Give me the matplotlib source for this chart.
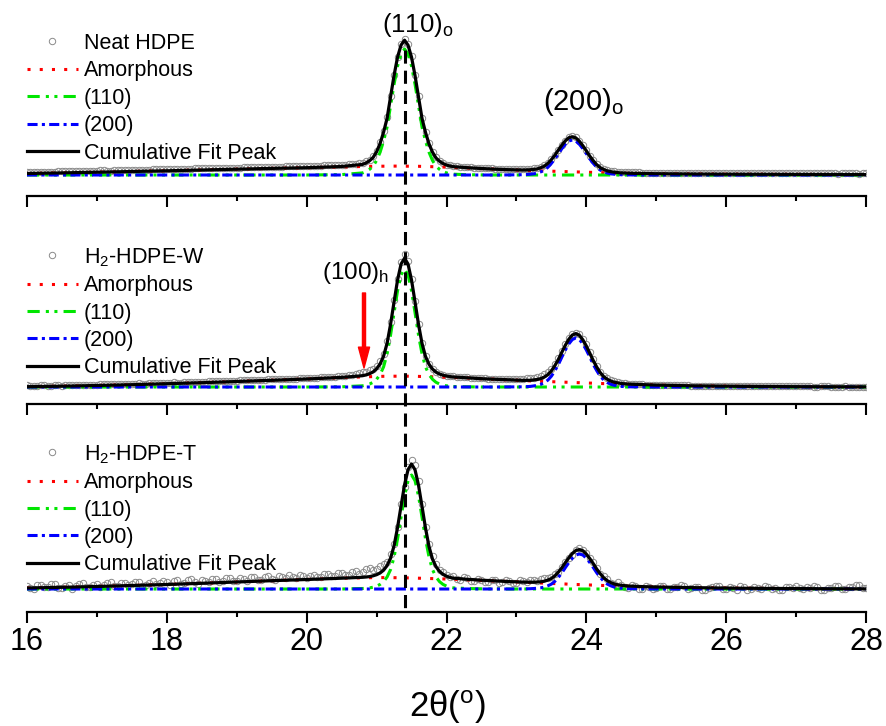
import numpy as np
import matplotlib
matplotlib.use("Agg")
import matplotlib.pyplot as plt
import matplotlib.transforms as mtransforms
from matplotlib.lines import Line2D
from matplotlib.ticker import MultipleLocator

plt.rcParams['font.family'] = ['Liberation Sans', 'DejaVu Sans']
plt.rcParams['mathtext.fontset'] = 'custom'
plt.rcParams['mathtext.rm'] = 'Liberation Sans'
plt.rcParams['mathtext.it'] = 'Liberation Sans:italic'
plt.rcParams['mathtext.bf'] = 'Liberation Sans:bold'

# ---------------- data (intensity in a.u. above each panel's baseline) ----------------
sample_names = ['Neat HDPE', 'H$_\\mathrm{2}$-HDPE-W', 'H$_\\mathrm{2}$-HDPE-T']
component_names = ['Amorphous', '(110)', '(200)', 'Cumulative Fit Peak']
x_ticks = [16, 18, 20, 22, 24, 26, 28]

# measured 2theta scan positions (step 0.05)
two_theta_obs = np.round(np.arange(16.0, 28.0001, 0.05), 2)

obs_neat = [
    3.0, 3.1, 3.2, 3.3, 3.1, 3.2, 3.5, 3.4, 3.4, 3.6, 3.7, 3.6, 3.8, 3.9, 3.9, 4.1, 4.3, 4.2, 4.2, 4.3,
    4.4, 4.6, 4.6, 4.5, 4.5, 4.8, 4.9, 4.9, 5.0, 5.1, 5.1, 5.3, 5.4, 5.3, 5.3, 5.5, 5.6, 5.8, 5.9, 5.8,
    5.8, 6.0, 6.1, 6.2, 6.3, 6.2, 6.2, 6.4, 6.6, 6.6, 6.7, 6.8, 6.8, 7.0, 7.1, 7.0, 7.0, 7.2, 7.3, 7.4,
    7.5, 7.5, 7.6, 7.8, 7.9, 7.8, 7.8, 8.0, 8.1, 8.2, 8.3, 8.3, 8.3, 8.5, 8.6, 8.7, 8.8, 8.7, 8.8, 9.0,
    9.1, 9.2, 9.3, 9.3, 9.4, 9.6, 9.7, 9.8, 9.9, 10.0, 10.2, 10.4, 10.6, 10.9, 11.3, 11.8, 12.5, 13.6, 15.5, 19.0,
    24.5, 33.0, 44.0, 58.0, 79.5, 100.5, 118.5, 131.0, 136.5, 131.0, 119.0, 100.0, 79.0, 57.5, 43.5, 32.0, 23.5, 17.8, 14.5, 12.2,
    10.5, 9.6, 9.0, 8.6, 8.3, 8.0, 7.8, 7.7, 7.5, 7.2, 7.0, 6.9, 6.8, 6.7, 6.5, 6.3, 6.2, 6.1, 6.0, 5.9,
    5.9, 5.9, 5.9, 6.0, 6.3, 6.7, 7.3, 8.2, 9.6, 12.5, 16.0, 20.5, 25.5, 30.5, 34.5, 37.8, 39.0, 37.8, 34.5, 30.0,
    25.0, 19.5, 15.0, 11.0, 8.0, 6.2, 5.0, 4.2, 3.6, 3.3, 3.0, 2.9, 2.8, 2.7, 2.6, 2.6, 2.5, 2.5, 2.4, 2.4,
    2.3, 2.4, 2.3, 2.2, 2.2, 2.3, 2.4, 2.3, 2.2, 2.1, 2.1, 2.2, 2.3, 2.2, 2.1, 2.0, 2.0, 2.1, 2.2, 2.1,
    2.0, 1.9, 1.9, 2.0, 2.1, 2.0, 1.9, 1.8, 1.8, 1.9, 2.0, 1.9, 1.8, 1.8, 1.9, 1.8, 1.7, 1.7, 1.8, 1.8,
    1.7, 1.8, 1.8, 1.7, 1.6, 1.6, 1.7, 1.7, 1.6, 1.7, 1.8, 1.7, 1.5, 1.6, 1.6, 1.7, 1.7, 1.6, 1.5, 1.6,
    1.6]
obs_w = [
    1.5, 1.2, 1.0, 1.4, 1.8, 1.5, 1.2, 1.4, 1.6, 1.5, 1.3, 1.7, 2.0, 1.9, 1.8, 2.1, 2.4, 2.2, 2.0, 2.1,
    2.3, 2.5, 2.6, 2.5, 2.5, 2.8, 3.0, 2.9, 2.8, 3.1, 3.3, 3.4, 3.5, 3.4, 3.3, 3.6, 3.9, 4.0, 4.0, 4.0,
    4.1, 4.3, 4.5, 4.4, 4.4, 4.7, 4.9, 5.0, 5.0, 5.1, 5.2, 5.4, 5.6, 5.5, 5.5, 5.8, 6.0, 6.1, 6.2, 6.2,
    6.3, 6.5, 6.7, 6.8, 6.8, 6.9, 7.0, 7.2, 7.4, 7.5, 7.5, 7.7, 7.8, 8.0, 8.1, 8.1, 8.2, 8.4, 8.6, 8.7,
    8.8, 9.0, 9.2, 9.4, 9.5, 9.7, 9.9, 10.1, 10.3, 10.5, 10.8, 11.3, 11.8, 12.4, 13.0, 13.7, 14.5, 15.4, 16.5, 18.0,
    21.0, 26.0, 33.0, 46.0, 64.5, 87.0, 108.5, 125.0, 133.0, 126.0, 108.5, 85.5, 62.5, 43.5, 30.5, 23.0, 18.2, 15.0, 13.2, 12.0,
    11.3, 10.9, 10.6, 10.3, 10.0, 9.8, 9.6, 9.3, 9.0, 8.8, 8.6, 8.5, 8.3, 8.1, 8.0, 7.9, 7.8, 7.7, 7.6, 7.6,
    7.7, 7.9, 8.2, 8.6, 9.0, 9.4, 10.0, 11.0, 12.5, 14.5, 17.5, 22.5, 28.5, 35.5, 42.5, 48.5, 52.5, 54.0, 53.0, 48.0,
    42.5, 35.0, 27.5, 21.0, 15.0, 11.0, 8.5, 6.8, 5.5, 4.7, 4.0, 3.6, 3.3, 3.0, 2.8, 2.7, 2.5, 2.4, 2.2, 2.1,
    2.0, 1.9, 1.8, 1.8, 1.7, 1.7, 1.6, 1.6, 1.5, 1.5, 1.4, 1.4, 1.3, 1.3, 1.3, 1.2, 1.2, 1.1, 1.1, 1.1,
    1.0, 1.0, 1.0, 0.9, 0.9, 0.9, 0.9, 0.8, 0.8, 0.8, 0.8, 0.7, 0.7, 0.7, 0.8, 0.7, 0.6, 0.6, 0.7, 0.6,
    0.5, 0.6, 0.6, 0.5, 0.5, 0.4, 0.4, 0.5, 0.6, 0.5, 0.4, 0.4, 0.3, 0.4, 0.5, 0.4, 0.3, 0.3, 0.4, 0.3,
    0.3]
obs_t = [
    3.5, 1.0, 0.5, 4.5, 4.0, 2.0, 2.0, 5.0, 5.0, 1.5, 1.5, 3.5, 4.5, 0.5, 3.0, 5.5, 6.0, 2.0, 2.5, 4.5,
    5.5, 2.5, 4.0, 6.5, 7.0, 3.0, 3.5, 6.0, 6.5, 4.0, 5.0, 7.5, 7.5, 3.5, 4.5, 6.5, 8.0, 5.0, 6.0, 8.5,
    7.0, 4.5, 8.5, 9.0, 5.5, 6.5, 9.0, 10.0, 7.0, 5.5, 9.5, 8.0, 7.5, 10.5, 10.0, 7.0, 8.5, 11.5, 11.0, 8.0,
    8.5, 11.0, 10.5, 8.0, 12.0, 12.5, 9.5, 9.0, 12.5, 13.0, 10.5, 9.5, 13.0, 12.0, 11.0, 14.0, 12.5, 11.0, 14.0, 13.5,
    11.5, 13.0, 14.5, 12.0, 12.5, 15.5, 15.0, 13.0, 13.5, 16.5, 16.0, 14.0, 14.5, 17.5, 18.0, 15.5, 17.0, 20.0, 21.0, 19.0,
    20.0, 23.5, 25.0, 27.0, 35.0, 45.0, 62.0, 85.0, 102.0, 122.0, 129.0, 124.0, 108.0, 85.0, 62.0, 45.0, 33.0, 25.0, 19.0, 17.5,
    14.0, 12.5, 13.0, 10.5, 9.5, 12.0, 11.0, 8.5, 8.0, 10.5, 9.5, 7.0, 7.0, 9.5, 9.0, 6.5, 7.5, 9.5, 8.5, 6.5,
    6.5, 9.0, 8.0, 7.0, 9.5, 9.0, 8.5, 10.5, 11.0, 11.5, 12.0, 15.0, 17.5, 22.0, 27.0, 31.0, 34.0, 39.0, 41.0, 39.5,
    36.0, 31.5, 27.5, 21.0, 15.0, 13.0, 10.5, 6.0, 5.0, 7.0, 4.5, 2.0, 1.5, 4.5, 3.5, 0.5, 0.5, 3.0, 2.5, 0.0,
    1.0, 3.5, 3.0, 0.0, 0.5, 2.5, 2.0, 4.0, 3.5, 0.5, 1.0, 2.0, 2.5, -0.5, -0.5, 1.5, 2.0, 3.5, 3.0, 0.5,
    0.5, 2.0, 1.5, -0.5, 3.0, 2.5, -1.0, 0.0, 2.0, 1.5, 0.5, 3.0, 2.5, 0.0, 1.0, -0.5, -0.5, 2.0, 2.5, 1.0,
    3.5, 1.5, 0.0, 2.0, 1.5, 3.0, 2.5, -0.5, -1.0, 1.5, 1.0, 3.5, 3.0, 0.0, 0.5, 2.5, 2.0, 4.5, 4.0, 1.5,
    1.0]

# 2theta positions at which the fitted curves are tabulated
two_theta_fit = np.array(
    [16.0, 16.5, 17.0, 17.5, 18.0, 18.5, 19.0, 19.5, 20.0, 20.5]
    + list(np.round(np.arange(20.80, 22.1001, 0.05), 2))
    + [22.3, 22.5, 22.7, 22.9]
    + list(np.round(np.arange(23.10, 24.6001, 0.05), 2))
    + [24.8, 25.0, 25.5, 26.0, 26.5, 27.0, 27.5, 28.0])

# --- Neat HDPE fit components ---
amor_neat = ([1.5, 2.1, 2.8, 3.5, 4.2, 5.0, 5.8, 6.6, 7.3, 8.1]
             + [8.5, 8.6, 8.6, 8.7, 8.7, 8.8, 8.8, 8.8, 8.9, 8.9, 8.9, 8.9, 8.8, 8.8,
                8.8, 8.7, 8.7, 8.6, 8.5, 8.4, 8.3, 8.2, 8.1, 8.0, 7.8, 7.7, 7.5]
             + [7.0, 6.4, 5.8, 5.2]
             + [4.7, 4.6, 4.5, 4.4, 4.2, 4.1, 4.0, 3.9, 3.8, 3.7, 3.6, 3.5, 3.4, 3.3,
                3.2, 3.1, 3.0, 2.9, 2.8, 2.7, 2.6, 2.5, 2.4, 2.3, 2.2, 2.1, 2.0, 1.9,
                1.8, 1.75, 1.7]
             + [1.5, 1.3, 1.0, 0.8, 0.7, 0.6, 0.5, 0.4])
p110_neat = ([0.0] * 9 + [0.4]
             + [2.1, 3.5, 5.7, 8.8, 14.5, 22.7, 34.0, 47.9, 69.3, 90.7, 109.0, 121.0,
                126.0, 121.0, 109.0, 90.7, 69.3, 47.9, 34.0, 22.7, 14.5, 8.8, 5.7, 3.5,
                2.1, 1.3, 0.8]
             + [0.3, 0.1, 0.0, 0.0]
             + [0.0] * 31
             + [0.0] * 8)
p200_neat = ([0.0] * 10
             + [0.0] * 27
             + [0.0, 0.0, 0.0, 0.1]
             + [0.3, 0.5, 0.8, 1.2, 1.9, 3.2, 4.9, 7.7, 11.6, 16.1, 21.4, 26.4, 30.8, 34.0,
                35.0, 34.0, 30.8, 26.4, 21.4, 16.1, 11.6, 7.7, 4.9, 3.2, 1.9, 1.2, 0.8, 0.5,
                0.3, 0.2, 0.1]
             + [0.0] * 8)

# --- H2-HDPE-W fit components ---
amor_w = ([0.3, 0.8, 1.5, 2.3, 3.3, 4.3, 5.5, 6.7, 8.0, 9.4]
          + [10.1, 10.2, 10.3, 10.4, 10.5, 10.6, 10.7, 10.7, 10.8, 10.8, 10.8, 10.8, 10.8,
             10.8, 10.7, 10.7, 10.6, 10.5, 10.4, 10.3, 10.2, 10.1, 10.0, 9.9, 9.8, 9.7, 9.5]
          + [9.0, 8.3, 7.7, 7.1]
          + [6.4, 6.3, 6.1, 6.0, 5.9, 5.7, 5.6, 5.5, 5.3, 5.2, 5.1, 4.9, 4.8, 4.7, 4.5,
             4.4, 4.3, 4.1, 4.0, 3.9, 3.8, 3.6, 3.5, 3.4, 3.3, 3.2, 3.1, 3.0, 2.9, 2.8, 2.7]
          + [2.3, 1.9, 1.2, 0.8, 0.5, 0.3, 0.2, 0.1])
p110_w = ([0.0] * 9 + [0.2]
          + [1.2, 1.9, 3.0, 4.7, 7.7, 12.4, 20.1, 33.0, 51.9, 74.3, 96.2, 112.1, 118.0,
             112.1, 96.2, 74.3, 51.9, 33.0, 20.1, 12.4, 7.7, 4.7, 3.0, 1.9, 1.2, 0.7, 0.5]
          + [0.2, 0.0, 0.0, 0.0]
          + [0.0] * 31
          + [0.0] * 8)
p200_w = ([0.0] * 10
          + [0.0] * 27
          + [0.0, 0.0, 0.0, 0.1]
          + [0.2, 0.4, 0.6, 1.1, 1.7, 2.7, 4.4, 6.9, 10.8, 16.2, 22.5, 29.9, 37.0, 43.1,
             47.5, 49.0, 47.5, 43.1, 37.0, 29.9, 22.5, 16.2, 10.8, 6.9, 4.4, 2.7, 1.7, 1.1,
             0.6, 0.4, 0.2]
          + [0.1, 0.0, 0.0, 0.0, 0.0, 0.0, 0.0, 0.0])

# --- H2-HDPE-T fit components ---
amor_t = ([1.0, 1.7, 2.5, 3.5, 4.5, 5.7, 7.0, 8.3, 9.5, 10.8]
          + [11.2, 11.3, 11.3, 11.4, 11.4, 11.4, 11.4, 11.4, 11.4, 11.3, 11.3, 11.2, 11.2,
             11.1, 11.0, 10.9, 10.8, 10.7, 10.6, 10.5, 10.4, 10.3, 10.2, 10.1, 9.9, 9.8, 9.7]
          + [9.2, 8.6, 8.0, 7.4]
          + [6.8, 6.6, 6.5, 6.3, 6.2, 6.0, 5.9, 5.7, 5.6, 5.4, 5.3, 5.1, 5.0, 4.8, 4.7,
             4.5, 4.4, 4.3, 4.1, 4.0, 3.9, 3.7, 3.6, 3.5, 3.4, 3.2, 3.1, 3.0, 2.9, 2.8, 2.7]
          + [2.3, 2.0, 1.4, 0.9, 0.6, 0.4, 0.2, 0.1])
p110_t = ([0.0] * 10
          + [0.5, 0.7, 1.1, 1.8, 2.9, 4.6, 7.4, 12.0, 19.4, 31.9, 50.2, 71.8, 92.9, 108.3,
             114.0, 108.3, 92.9, 71.8, 50.2, 31.9, 19.4, 12.0, 7.4, 4.6, 2.9, 1.8, 1.1]
          + [0.5, 0.2, 0.1, 0.0]
          + [0.0] * 31
          + [0.0] * 8)
p200_t = ([0.0] * 10
          + [0.0] * 27
          + [0.0, 0.0, 0.0, 0.0]
          + [0.1, 0.2, 0.3, 0.5, 0.8, 1.2, 1.9, 3.2, 4.9, 7.7, 11.6, 16.1, 21.4, 26.4, 30.8,
             34.0, 35.0, 34.0, 30.8, 26.4, 21.4, 16.1, 11.6, 7.7, 4.9, 3.2, 1.9, 1.2, 0.8,
             0.5, 0.3]
          + [0.1, 0.0, 0.0, 0.0, 0.0, 0.0, 0.0, 0.0])

observed = [obs_neat, obs_w, obs_t]
amorphous = [amor_neat, amor_w, amor_t]
peak110 = [p110_neat, p110_w, p110_t]
peak200 = [p200_neat, p200_w, p200_t]

ref_two_theta = 21.4  # dashed reference line position

# ---------------- layout ----------------
W, H = 886, 726
fig = plt.figure(figsize=(W / 100, H / 100), dpi=100)


def fx(px):
    return px / W


def fy(py):
    return 1 - py / H


left_px, right_px = 27, 866
spine_px = [196, 404, 612]
base_off = [21, 17, 23]
AX_H = 182
legend_top_px = [33, 246, 443]

c_red, c_green, c_blue = '#ff0000', '#00e600', '#0000ff'

axes = []
for i in range(3):
    ax = fig.add_axes([fx(left_px), fy(spine_px[i]), (right_px - left_px) / W, AX_H / H])
    axes.append(ax)
    ax.set_xlim(16, 28)
    ax.set_ylim(-base_off[i], AX_H - base_off[i])
    for s in ['top', 'left', 'right']:
        ax.spines[s].set_visible(False)
    ax.spines['bottom'].set_linewidth(1.6)
    ax.set_yticks([])
    ax.set_xticks(x_ticks)
    ax.xaxis.set_minor_locator(MultipleLocator(1))
    ax.tick_params(axis='x', which='major', direction='out', length=8, width=1.5,
                   labelsize=22, pad=3)
    ax.tick_params(axis='x', which='minor', direction='out', length=3.8, width=1.5)
    if i < 2:
        ax.tick_params(axis='x', which='both', labelbottom=False)
    ax.patch.set_alpha(0)

    cum = np.array(amorphous[i]) + np.array(peak110[i]) + np.array(peak200[i])
    h_obs, = ax.plot(two_theta_obs, observed[i], ls='none', marker='o', ms=4.6,
                     mfc='none', mec='#8a8a8a', mew=0.7, zorder=2)
    h_am, = ax.plot(two_theta_fit, amorphous[i], color=c_red, lw=2.2,
                    ls=(0, (1, 3.0)), zorder=3)
    h_110, = ax.plot(two_theta_fit, peak110[i], color=c_green, lw=2.2,
                     ls=(0, (4, 2.0, 1, 1.8, 1, 2.0)), zorder=4)
    h_200, = ax.plot(two_theta_fit, peak200[i], color=c_blue, lw=2.2,
                     ls=(0, (3.3, 1.4, 1, 1.4)), zorder=5)
    h_cum, = ax.plot(two_theta_fit, cum, color='black', lw=2.3, zorder=6)

    ax.legend([h_obs, h_am, h_110, h_200, h_cum],
              [sample_names[i]] + component_names,
              loc='upper left', bbox_to_anchor=(fx(left_px), fy(legend_top_px[i])),
              bbox_transform=fig.transFigure, frameon=False, fontsize=15.5,
              handlelength=2.35, handletextpad=0.28, labelspacing=0.30,
              borderpad=0, borderaxespad=0, numpoints=1)

# peak labels
axes[0].text(21.08, 143, '(110)$_\\mathrm{o}$', ha='left', va='baseline', fontsize=18.5)
axes[0].text(23.38, 65, '(200)$_\\mathrm{o}$', ha='left', va='baseline', fontsize=21)
axes[1].text(20.22, 108, '(100)$_\\mathrm{h}$', ha='left', va='baseline', fontsize=17.5)

# arrow pointing to the hexagonal (100) shoulder
arrow_x, arrow_from, arrow_to = 20.82, 94, 19
axes[1].annotate('', xy=(arrow_x, arrow_to), xytext=(arrow_x, arrow_from),
                 arrowprops=dict(facecolor=c_red, edgecolor=c_red, width=2.2,
                                 headwidth=8, headlength=15, shrink=0))

# dashed reference line through all panels
trans = mtransforms.blended_transform_factory(axes[2].transData, fig.transFigure)
vline = Line2D([ref_two_theta, ref_two_theta], [fy(50), fy(608)], transform=trans,
               color='black', lw=2.2, ls=(0, (4.3, 2.3)), zorder=10)
fig.add_artist(vline)

fig.text(fx(447), fy(717), '2θ($^\\mathrm{o}$)', ha='center', va='baseline', fontsize=25)

fig.savefig('out.png', dpi=100)
